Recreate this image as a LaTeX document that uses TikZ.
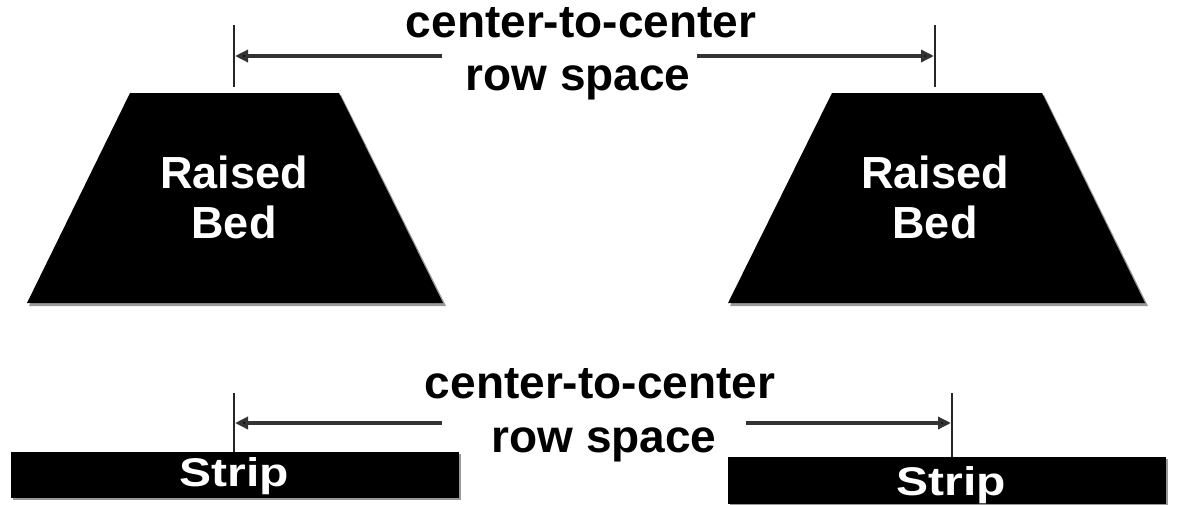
\documentclass[tikz,border=0pt]{standalone}
\usepackage{fontspec}
\setmainfont{Liberation Sans}
\usetikzlibrary{arrows.meta}
\begin{document}
\begin{tikzpicture}[x=1pt,y=-1pt,
  lbl/.style={font=\fontsize{46}{53}\selectfont\bfseries, text=black, inner sep=0pt, anchor=base},
  bedtxt/.style={font=\fontsize{45}{50}\selectfont\bfseries, text=white, inner sep=0pt, anchor=base},
  striptxt/.style={font=\fontsize{40}{48}\selectfont\bfseries, text=white, inner sep=0pt, anchor=base},
  dimline/.style={draw=black!80, line width=3.5pt, -{Triangle[length=13pt,width=12pt,fill=black]}},
  tickline/.style={draw=black!85, line width=2.5pt},
  bedfill/.style={fill=black},
  shadowfill/.style={fill=black!40}
]
\useasboundingbox (0,0) rectangle (1180,504);

% raised beds
\fill[shadowfill] (132,95) -- (341,95) -- (446,306) -- (29,306) -- cycle;
\fill[bedfill] (130,93) -- (339,93) -- (443,303) -- (27,303) -- cycle;
\fill[shadowfill] (834,95) -- (1044,95) -- (1148,306) -- (730,306) -- cycle;
\fill[bedfill] (832,93) -- (1042,93) -- (1145,303) -- (728,303) -- cycle;
\node[bedtxt] (bedLa) at (234,188) {Raised};
\node[bedtxt] (bedLb) at (234,238) {Bed};
\node[bedtxt] (bedRa) at (935,188) {Raised};
\node[bedtxt] (bedRb) at (935,238) {Bed};

% strips
\fill[shadowfill] (13,454) rectangle (461,500);
\fill[bedfill] (11,452) rectangle (459,498);
\fill[shadowfill] (730,459) rectangle (1168,505);
\fill[bedfill] (728,457) rectangle (1166,504);
\node[striptxt] (stripL) at (234,486) {\scalebox{1.2}[1]{Strip}};
\node[striptxt] (stripR) at (951,495) {\scalebox{1.2}[1]{Strip}};

% top dimension
\node[lbl] (topA) at (581,37) {center-to-center};
\node[lbl] (topB) at (578,90) {row space};
\coordinate (tLt) at (234,25);
\coordinate (tLb) at (234,87);
\coordinate (tRt) at (935,25);
\coordinate (tRb) at (935,87);
\coordinate (tLm) at (235,56);
\coordinate (tRm) at (934,56);
\coordinate (aL) at (442,56);
\coordinate (aR) at (697,56);
\draw[tickline] (tLt) -- (tLb);
\draw[tickline] (tRt) -- (tRb);
\draw[dimline] (aL) -- (tLm);
\draw[dimline] (aR) -- (tRm);

% bottom dimension
\node[lbl] (botA) at (600,398) {center-to-center};
\node[lbl] (botB) at (604,452) {row space};
\coordinate (bLt) at (234,393);
\coordinate (bLb) at (234,452);
\coordinate (bRt) at (952,393);
\coordinate (bRb) at (952,457);
\coordinate (bLm) at (235,423);
\coordinate (bRm) at (951,423);
\coordinate (cL) at (442,423);
\coordinate (cR) at (746,423);
\draw[tickline] (bLt) -- (bLb);
\draw[tickline] (bRt) -- (bRb);
\draw[dimline] (cL) -- (bLm);
\draw[dimline] (cR) -- (bRm);
\end{tikzpicture}
\end{document}
